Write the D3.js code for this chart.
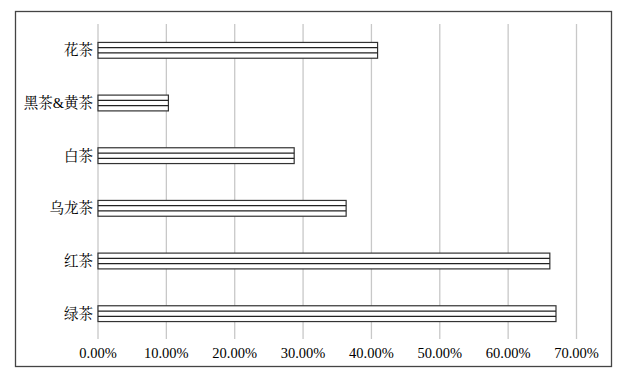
<!DOCTYPE html>
<html>
<head>
<meta charset="utf-8">
<script src="https://cdn.jsdelivr.net/npm/d3@7"></script>
<style>
  body { margin: 0; background: #fff; }
  svg { display: block; }
</style>
</head>
<body>
<div id="chart"></div>
<script>
// data
const categories = ["花茶", "黑茶&黄茶", "白茶", "乌龙茶", "红茶", "绿茶"];
const shares = [0.409, 0.103, 0.287, 0.363, 0.661, 0.670];
const ticks = [0, 0.1, 0.2, 0.3, 0.4, 0.5, 0.6, 0.7];

const W = 625, H = 376;
const margin = {left: 98, right: 48, top: 24, bottom: 36};

const svg = d3.select("#chart")
    .append("svg")
    .attr("width", W)
    .attr("height", H);

const font = "'Liberation Serif', 'Noto Serif CJK SC', 'Noto Sans CJK SC', serif";

// outer frame
svg.append("rect")
    .attr("x", 15.5)
    .attr("y", 11.5)
    .attr("width", 596)
    .attr("height", 355)
    .attr("fill", "none")
    .attr("stroke", "#444")
    .attr("stroke-width", 1.3);

const x = d3.scaleLinear()
    .domain([0, 0.7])
    .range([margin.left, 576.5]);

const y = d3.scaleBand()
    .domain(categories)
    .range([margin.top, H - margin.bottom])
    .paddingInner(0.7)
    .paddingOuter(0.35);

// gridlines
svg.append("g")
    .selectAll("line")
    .data(ticks)
    .join("line")
    .attr("x1", d => x(d))
    .attr("x2", d => x(d))
    .attr("y1", margin.top)
    .attr("y2", 339)
    .attr("stroke", "#c8c8c8")
    .attr("stroke-width", 1.3);

// x tick labels
svg.append("g")
    .selectAll("text")
    .data(ticks)
    .join("text")
    .attr("x", d => x(d))
    .attr("y", 358)
    .attr("text-anchor", "middle")
    .attr("font-family", font)
    .attr("font-size", "14.5px")
    .attr("fill", "#000")
    .text(d => d3.format(".2%")(d));

// category labels
svg.append("g")
    .selectAll("text")
    .data(categories)
    .join("text")
    .attr("x", 93)
    .attr("y", d => y(d) + y.bandwidth() / 2)
    .attr("dy", ".35em")
    .attr("text-anchor", "end")
    .attr("font-family", font)
    .attr("font-size", "14.5px")
    .attr("fill", "#000")
    .text(d => d);

// bars: white box with horizontal stripes
const bars = svg.append("g")
    .selectAll("g")
    .data(categories.map((c, i) => ({cat: c, v: shares[i]})))
    .join("g");

bars.append("rect")
    .attr("x", x(0))
    .attr("y", d => y(d.cat))
    .attr("width", d => x(d.v) - x(0))
    .attr("height", y.bandwidth())
    .attr("fill", "#fff")
    .attr("stroke", "#333")
    .attr("stroke-width", 1.2);

bars.each(function(d) {
    const gb = d3.select(this);
    [1 / 3, 2 / 3].forEach(f => {
        gb.append("line")
            .attr("x1", x(0))
            .attr("x2", x(d.v))
            .attr("y1", y(d.cat) + y.bandwidth() * f)
            .attr("y2", y(d.cat) + y.bandwidth() * f)
            .attr("stroke", "#222")
            .attr("stroke-width", 1.2);
    });
});
</script>
</body>
</html>
